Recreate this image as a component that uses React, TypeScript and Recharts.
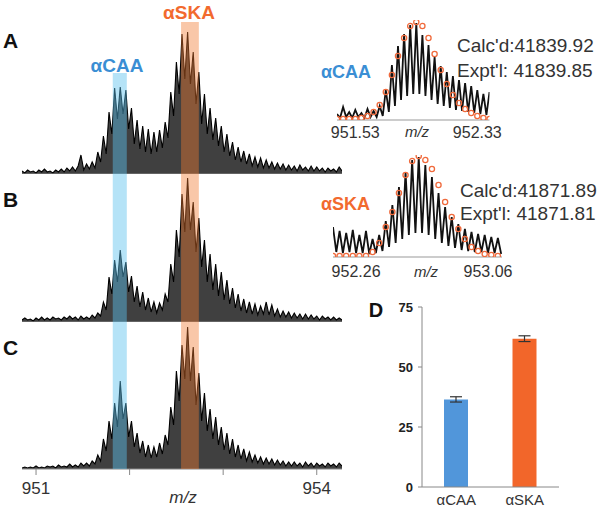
import React from 'react';
import {
  ComposedChart,
  Area,
  Line,
  XAxis,
  YAxis,
  ReferenceArea,
  ReferenceLine,
  BarChart,
  Bar,
  Cell,
  ErrorBar,
} from 'recharts';

const FONT = '"Liberation Sans", Arial, Helvetica, sans-serif';

// ---------- main spectra (A, B, C) ----------
const MZ_START = 950.85;
const MZ_STEP = 0.03;
const MAIN_DOMAIN: [number, number] = [950.85, 954.27];
const MAIN_TICKS = [951, 952, 953, 954];
const MAIN_LABELED_TICKS = [951, 954];

const SPEC_A = [
  3, 1, 4, 2, 3, 1, 4, 2, 5, 2,
  3, 1, 4, 2, 5, 2, 6, 3, 7, 3,
  8, 19, 4, 10, 5, 12, 6, 22, 12, 38,
  20, 62, 40, 86, 55, 87, 60, 84, 45, 66,
  30, 54, 25, 48, 22, 45, 20, 42, 22, 44,
  26, 52, 36, 82, 58, 112, 80, 140, 95, 142,
  90, 122, 70, 102, 50, 80, 40, 66, 34, 56,
  28, 48, 22, 40, 18, 32, 14, 27, 12, 23,
  10, 20, 8, 17, 7, 16, 6, 14, 6, 12,
  5, 11, 5, 10, 4, 9, 4, 8, 3, 9,
  4, 7, 3, 8, 3, 7, 3, 6, 2, 6,
  3, 5, 2, 7, 3,
];
const SPEC_B = [
  2, 4, 2, 3, 1, 4, 2, 5, 2, 4,
  2, 5, 3, 4, 2, 5, 3, 6, 3, 5,
  2, 6, 3, 5, 3, 7, 4, 9, 6, 20,
  12, 45, 28, 62, 40, 72, 45, 60, 30, 46,
  20, 36, 15, 30, 12, 24, 10, 20, 9, 19,
  12, 28, 20, 58, 40, 92, 65, 128, 90, 144,
  92, 120, 70, 104, 55, 82, 40, 68, 32, 58,
  26, 50, 22, 42, 18, 34, 14, 28, 11, 23,
  9, 20, 8, 18, 7, 16, 8, 20, 7, 17,
  6, 13, 5, 11, 5, 10, 4, 9, 4, 8,
  3, 8, 3, 7, 3, 6, 2, 6, 3, 5,
  2, 5, 2, 4, 2,
];
const SPEC_C = [
  1, 2, 1, 2, 1, 3, 1, 2, 1, 3,
  2, 3, 1, 4, 2, 3, 2, 5, 2, 4,
  2, 6, 3, 6, 3, 8, 5, 14, 8, 30,
  18, 48, 30, 66, 42, 88, 50, 66, 32, 48,
  22, 36, 16, 28, 12, 24, 11, 22, 12, 26,
  15, 34, 24, 62, 44, 98, 68, 124, 90, 142,
  88, 122, 64, 96, 48, 76, 38, 60, 30, 52,
  24, 42, 19, 36, 15, 30, 12, 24, 10, 20,
  8, 17, 7, 14, 6, 12, 5, 11, 5, 10,
  4, 9, 4, 8, 3, 7, 3, 7, 3, 6,
  2, 7, 3, 6, 2, 6, 3, 5, 2, 6,
  3, 5, 2, 6, 3,
];
const CAA_BAND: [number, number] = [951.82, 951.97];
const SKA_BAND: [number, number] = [952.55, 952.74];

// ---------- insets ----------
const INSET_STEP = 0.02;
const THEO_STEP = 0.04;

const INSET_A_START = 951.41;
const INSET_A_DOMAIN: [number, number] = [951.41, 952.41];
const INSET_A_TICKS = [951.53, 952.33];
const INSET_A_EXP = [
  6, 2, 13, 3, 8, 2, 10, 3, 7, 2,
  11, 3, 9, 3, 14, 4, 30, 8, 55, 14,
  74, 20, 86, 24, 95, 26, 97, 26, 85, 24,
  75, 20, 63, 16, 54, 14, 48, 12, 44, 10,
  40, 9, 37, 8, 34, 7, 30, 6, 26, 5,
  28,
];
const INSET_A_THEO = [
  1, 1, 1, 1, 2, 4, 8, 15, 28, 45, 64, 82, 94,
  98, 94, 82, 66, 50, 36, 25, 17, 11, 7, 4, 2, 1,
];

const INSET_B_START = 952.12;
const INSET_B_DOMAIN: [number, number] = [952.12, 953.145];
const INSET_B_TICKS = [952.26, 953.06];
const INSET_B_EXP = [
  30, 5, 26, 4, 24, 5, 27, 4, 22, 4,
  26, 3, 18, 4, 22, 6, 36, 10, 52, 14,
  70, 18, 85, 22, 97, 24, 100, 24, 92, 22,
  80, 18, 64, 14, 50, 11, 40, 9, 33, 7,
  28, 6, 25, 5, 23, 5, 22, 4, 20, 4,
  19, 3,
];
const INSET_B_THEO = [
  1, 1, 1, 1, 1, 1, 5, 14, 30, 45, 64, 82, 96,
  101, 97, 88, 72, 55, 40, 28, 18, 10, 6, 3, 2, 1,
];

// ---------- panel D ----------
const BAR_CATEGORIES = ['αCAA', 'αSKA'];
const BAR_VALUES = [36.5, 61.8];
const BAR_ERRORS = [1.1, 1.2];
const BAR_TICKS = [0, 25, 50, 75];

const BLUE = '#3a8ed4';
const ORANGE = '#f26a2e';
const BAR_COLORS = ['#5196da', '#f2662a'];

type SpecProps = {
  values: number[];
  top: number;
  plotHeight: number;
  caaTop: number;
  showAxis: boolean;
};

function Spectrum({ values, top, plotHeight, caaTop, showAxis }: SpecProps) {
  const data = values.map((v, i) => ({ mz: +(MZ_START + i * MZ_STEP).toFixed(3), v }));
  const axisH = showAxis ? 38 : 0;
  const h = plotHeight + axisH;
  return (
    <div style={{ position: 'absolute', left: 0, top, width: 360, height: h }}>
      <ComposedChart width={360} height={h} data={data} margin={{ top: 0, right: 18, bottom: 0, left: 22 }}>
        <XAxis
          dataKey="mz"
          type="number"
          domain={MAIN_DOMAIN}
          allowDataOverflow
          ticks={MAIN_TICKS}
          interval={0}
          hide={!showAxis}
          height={axisH}
          tickSize={6}
          tickMargin={7}
          axisLine={{ stroke: '#888' }}
          tickLine={{ stroke: '#888' }}
          tickFormatter={(v: number) => (MAIN_LABELED_TICKS.includes(v) ? String(v) : '')}
          tick={{ fontSize: 17, fill: '#333', fontFamily: FONT }}
        />
        <YAxis hide domain={[0, plotHeight]} allowDataOverflow />
        <Area
          type="linear"
          dataKey="v"
          stroke="#000"
          strokeWidth={1.1}
          fill="#1e1e1e"
          fillOpacity={0.85}
          dot={false}
          activeDot={false}
          isAnimationActive={false}
        />
        {!showAxis && <ReferenceLine y={0} stroke="#888" strokeWidth={1} />}
        <ReferenceArea
          x1={CAA_BAND[0]}
          x2={CAA_BAND[1]}
          y1={0}
          y2={caaTop}
          fill="#5cc0ee"
          fillOpacity={0.45}
          stroke="none"
          zIndex={1500}
        />
        <ReferenceArea
          x1={SKA_BAND[0]}
          x2={SKA_BAND[1]}
          y1={0}
          y2={plotHeight}
          fill="#f07a30"
          fillOpacity={0.42}
          stroke="none"
          zIndex={1500}
        />
      </ComposedChart>
    </div>
  );
}

type InsetProps = {
  left: number;
  top: number;
  width: number;
  marginLeft: number;
  plotWidth: number;
  plotHeight: number;
  axisH: number;
  tickMargin: number;
  domain: [number, number];
  ticks: number[];
  start: number;
  exp: number[];
  theo: number[];
};

function Inset(p: InsetProps) {
  const expData = p.exp.map((v, i) => ({ mz: +(p.start + i * INSET_STEP).toFixed(3), e: v }));
  const theoData = p.theo.map((v, i) => ({ mz: +(p.start + i * THEO_STEP).toFixed(3), t: v }));
  const h = p.plotHeight + p.axisH;
  return (
    <div style={{ position: 'absolute', left: p.left, top: p.top, width: p.width, height: h }}>
      <ComposedChart
        width={p.width}
        height={h}
        margin={{ top: 0, bottom: 0, left: p.marginLeft, right: p.width - p.marginLeft - p.plotWidth }}
      >
        <XAxis
          dataKey="mz"
          type="number"
          domain={p.domain}
          allowDataOverflow
          ticks={p.ticks}
          interval={0}
          height={p.axisH}
          tickLine={false}
          tickSize={4}
          tickMargin={p.tickMargin}
          axisLine={{ stroke: '#999' }}
          tickFormatter={(v: number) => v.toFixed(2)}
          tick={{ fontSize: 16, fill: '#333', fontFamily: FONT }}
        />
        <YAxis hide domain={[0, p.plotHeight]} allowDataOverflow />
        <Line
          data={expData}
          type="linear"
          dataKey="e"
          stroke="#111"
          strokeWidth={1.8}
          dot={false}
          activeDot={false}
          isAnimationActive={false}
        />
        <Line
          data={theoData}
          type="linear"
          dataKey="t"
          stroke="none"
          strokeWidth={0}
          dot={{ r: 2.6, stroke: '#f06a3c', strokeWidth: 1.3, fill: 'none' }}
          activeDot={false}
          isAnimationActive={false}
        />
      </ComposedChart>
    </div>
  );
}

function BarPanel() {
  const data = BAR_CATEGORIES.map((name, i) => ({ name, value: BAR_VALUES[i], err: BAR_ERRORS[i] }));
  return (
    <div style={{ position: 'absolute', left: 380, top: 297, width: 185, height: 211 }}>
      <BarChart width={185} height={211} data={data} margin={{ top: 10, right: 6, bottom: 0, left: 0 }}>
        <XAxis
          dataKey="name"
          interval={0}
          tickLine={false}
          tickSize={0}
          tickMargin={7}
          height={21}
          axisLine={{ stroke: '#888' }}
          tick={{ fontSize: 15, fill: '#333', fontFamily: FONT }}
        />
        <YAxis
          domain={[0, 75]}
          ticks={BAR_TICKS}
          interval={0}
          width={42}
          tickSize={4}
          tickMargin={5}
          axisLine={{ stroke: '#888' }}
          tickLine={{ stroke: '#888' }}
          tick={{ fontSize: 13, fill: '#222', fontWeight: 700, fontFamily: FONT }}
        />
        <Bar dataKey="value" barSize={24} isAnimationActive={false}>
          {data.map((d, i) => (
            <Cell key={d.name} fill={BAR_COLORS[i]} />
          ))}
          <ErrorBar dataKey="err" width={6} stroke="#333" strokeWidth={1.2} direction="y" isAnimationActive={false} />
        </Bar>
      </BarChart>
    </div>
  );
}

export default function App() {
  return (
    <div
      style={{
        position: 'absolute',
        left: 0,
        top: 0,
        width: 600,
        height: 508,
        background: '#fff',
        overflow: 'hidden',
        fontFamily: FONT,
      }}
    >
      <Spectrum values={SPEC_A} top={22} plotHeight={152} caaTop={101} showAxis={false} />
      <Spectrum values={SPEC_B} top={174} plotHeight={148} caaTop={148} showAxis={false} />
      <Spectrum values={SPEC_C} top={322} plotHeight={147} caaTop={147} showAxis={true} />

      <Inset
        left={317}
        top={20}
        width={200}
        marginLeft={20}
        plotWidth={152.5}
        plotHeight={100}
        axisH={20}
        tickMargin={3}
        domain={INSET_A_DOMAIN}
        ticks={INSET_A_TICKS}
        start={INSET_A_START}
        exp={INSET_A_EXP}
        theo={INSET_A_THEO}
      />
      <Inset
        left={313}
        top={155}
        width={210}
        marginLeft={20}
        plotWidth={169}
        plotHeight={102}
        axisH={24}
        tickMargin={5}
        domain={INSET_B_DOMAIN}
        ticks={INSET_B_TICKS}
        start={INSET_B_START}
        exp={INSET_B_EXP}
        theo={INSET_B_THEO}
      />

      <BarPanel />

      <svg
        width={600}
        height={508}
        style={{ position: 'absolute', left: 0, top: 0, pointerEvents: 'none' }}
        fontFamily={FONT}
      >
        <text x={3} y={47.5} fontSize={21} fontWeight={700} fill="#111">A</text>
        <text x={3} y={206.5} fontSize={21} fontWeight={700} fill="#111">B</text>
        <text x={3} y={355} fontSize={21} fontWeight={700} fill="#111">C</text>
        <text x={376} y={317} fontSize={20} fontWeight={700} fill="#111" textAnchor="middle">D</text>

        <text x={117} y={72} fontSize={19} fontWeight={700} fill={BLUE} textAnchor="middle">αCAA</text>
        <text x={189} y={19} fontSize={19} fontWeight={700} fill={ORANGE} textAnchor="middle">αSKA</text>

        <text x={371} y={78} fontSize={18} fontWeight={700} fill={BLUE} textAnchor="end">αCAA</text>
        <text x={370} y={209.5} fontSize={18} fontWeight={700} fill={ORANGE} textAnchor="end">αSKA</text>

        <text x={457} y={52} fontSize={19} fill="#333">Calc'd:41839.92</text>
        <text x={457} y={77} fontSize={19} fill="#333">Expt'l: 41839.85</text>
        <text x={460} y={197} fontSize={19} fill="#333">Calc'd:41871.89</text>
        <text x={460} y={220} fontSize={19} fill="#333">Expt'l: 41871.81</text>

        <text x={183} y={503} fontSize={17} fontStyle="italic" fill="#333" textAnchor="middle">m/z</text>
        <text x={417} y={137} fontSize={15} fontStyle="italic" fill="#333" textAnchor="middle">m/z</text>
        <text x={426} y={277} fontSize={15} fontStyle="italic" fill="#333" textAnchor="middle">m/z</text>
      </svg>
    </div>
  );
}
